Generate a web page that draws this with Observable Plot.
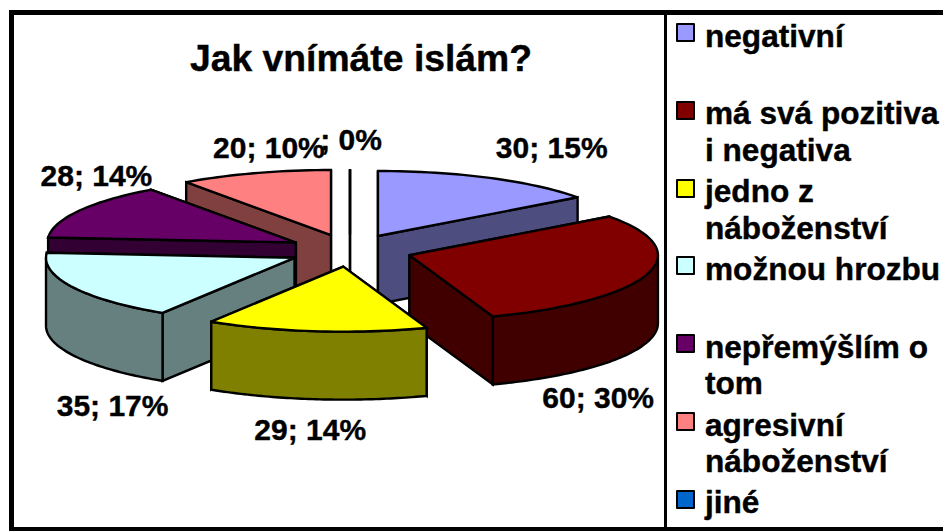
<!DOCTYPE html>
<html>
<head>
<meta charset="utf-8">
<script src="https://cdn.jsdelivr.net/npm/d3@7"></script>
<script src="https://cdn.jsdelivr.net/npm/@observablehq/plot@0.6"></script>
<style>
  html, body { margin: 0; padding: 0; background: #fff; }
  #page { position: relative; width: 943px; height: 531px; overflow: hidden; font-family: "Liberation Sans", Arial, sans-serif; font-weight: bold; color: #000; }
  #page svg { position: absolute; left: 0; top: 0; background: transparent; }
  .rule { position: absolute; background: #000; }
  .swatch { position: absolute; left: 676px; width: 15px; height: 15px; border: 2px solid #000; border-radius: 1px; }
  .entry { position: absolute; left: 705px; font-size: 31.6px; line-height: 36.5px; white-space: nowrap; -webkit-text-stroke: 0.4px #000; }
</style>
</head>
<body>
<div id="page"></div>
<script>
const categories = ["negativní", "má svá pozitiva i negativa", "jedno z náboženství", "možnou hrozbu", "nepřemýšlím o tom", "agresivní náboženství", "jiné"];
const legendLines = [["negativní"], ["má svá pozitiva", "i negativa"], ["jedno z", "náboženství"], ["možnou hrozbu"], ["nepřemýšlím o", "tom"], ["agresivní", "náboženství"], ["jiné"]];
const values = [30, 60, 29, 35, 28, 20, 0];
const topColors = ["#9999FF", "#800000", "#FFFF00", "#CCFFFF", "#660066", "#FF8080", "#0066CC"];
const sideColors = ["#4D4D80", "#400000", "#808000", "#668080", "#330033", "#804040", "#003366"];
const title = "Jak vnímáte islám?";

// Pixel nudges of the value labels away from the slice rims
const labelNudge = [[62, -30], [-49, 56], [-6, 31], [40, 51], [17, -34], [14, -25], [1, -29]];
// Pie geometry in unit-radius coordinates
const explode = 0.25, depth = 1.046;
// Back-to-front painting order of the slices
const paintOrder = [6, 5, 0, 4, 3, 1, 2];

const total = d3.sum(values);
let running = 0;
const slices = values.map((v, i) => {
  const a0 = running / total * 2 * Math.PI;
  running += v;
  const a1 = running / total * 2 * Math.PI;
  const mid = (a0 + a1) / 2;
  return {i, v, a0, a1, mid, ox: explode * Math.sin(mid), oy: explode * Math.cos(mid)};
});
const rim = (s, a) => [s.ox + Math.sin(a), s.oy + Math.cos(a)];

const points = [];
const addFace = (id, color, pts) => pts.concat([pts[0]]).forEach(([x, y]) => points.push({id, color, x, y}));
for (const k of paintOrder) {
  const s = slices[k], apex = [s.ox, s.oy];
  const down = ([x, y]) => [x, y - depth];
  const rA = rim(s, s.a0), rB = rim(s, s.a1);
  const sides = [[rA, "a"], [rB, "b"]].sort((p, q) => q[0][1] - p[0][1]);
  for (const [r, n] of sides) addFace(`${k}${n}`, sideColors[k], [apex, r, down(r), down(apex)]);
  const lo = Math.max(s.a0, Math.PI / 2), hi = Math.min(s.a1, 3 * Math.PI / 2);
  if (hi > lo) {
    const arc = d3.range(0, 61).map(t => rim(s, lo + (hi - lo) * t / 60));
    addFace(`${k}w`, sideColors[k], arc.concat(arc.map(down).reverse()));
  }
  const steps = Math.max(1, Math.ceil((s.a1 - s.a0) / 0.03));
  addFace(`${k}t`, topColors[k], [apex].concat(d3.range(0, steps + 1).map(t => rim(s, s.a0 + (s.a1 - s.a0) * t / steps))));
}

const labelMarks = slices.map((s, i) => {
  const [x, y] = rim(s, s.mid);
  const yy = Math.cos(s.mid) < 0 ? y - depth : y;
  const pct = Math.round(s.v / total * 100);
  return Plot.text([`${s.v || ""}; ${pct}%`], {
    x: [x], y: [yy], text: d => d,
    dx: labelNudge[i][0], dy: labelNudge[i][1],
    fontSize: 30, fontWeight: "bold", fill: "#000", stroke: "#000", strokeWidth: 0.4
  });
});

const chart = Plot.plot({
  width: 943, height: 531,
  margin: 0,
  style: {fontFamily: "'Liberation Sans', Arial, sans-serif", background: "transparent"},
  x: {domain: [-1, 1], range: [101, 598], axis: null},
  y: {domain: [1, -1], range: [185, 315], axis: null},
  marks: [
    Plot.line(points, {x: "x", y: "y", z: "id", fill: "color", stroke: "#000", strokeWidth: 2.4, strokeLinejoin: "miter", strokeMiterlimit: 3}),
    ...labelMarks,
    Plot.text([title], {x: [0], y: [0], text: d => d, dx: 11, dy: -191, fontSize: 37.3, fontWeight: "bold", fill: "#000", stroke: "#000", strokeWidth: 0.4})
  ]
});

const page = document.getElementById("page");
page.appendChild(chart);
const rule = (l, t, w, h) => {
  const e = document.createElement("div");
  e.className = "rule";
  e.style.cssText = `left:${l}px;top:${t}px;width:${w}px;height:${h}px`;
  page.appendChild(e);
};
rule(9, 10, 934, 5);
rule(9, 10, 5, 521);
rule(9, 527, 934, 4);
rule(664, 10, 2.5, 521);
categories.forEach((c, i) => {
  const top = 23 + i * 77.8;
  const sw = document.createElement("div");
  sw.className = "swatch";
  sw.style.top = top + "px";
  sw.style.background = topColors[i];
  page.appendChild(sw);
  const en = document.createElement("div");
  en.className = "entry";
  en.style.top = (top - 5.5) + "px";
  en.innerHTML = legendLines[i].join("<br>");
  page.appendChild(en);
});
</script>
</body>
</html>
